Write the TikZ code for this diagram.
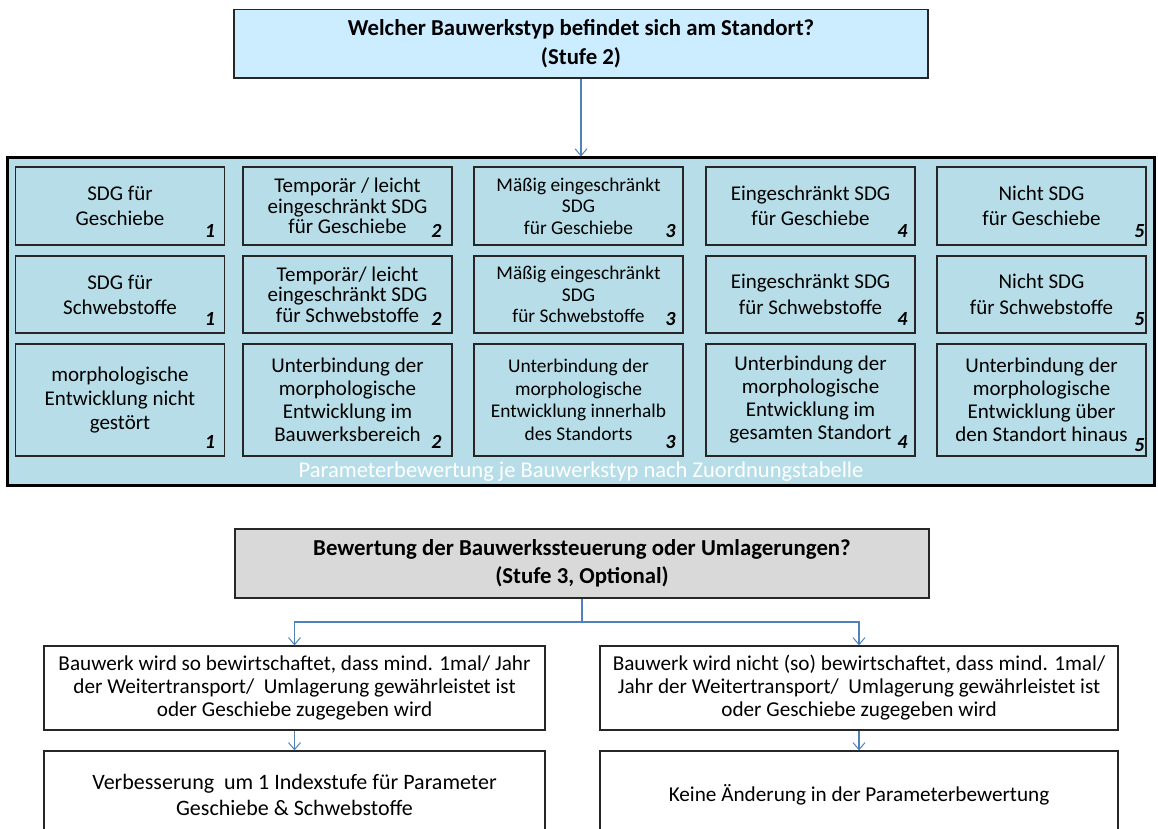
\documentclass[tikz,border=0pt]{standalone}
\usepackage{fontspec}
\setmainfont{Carlito}
\usetikzlibrary{arrows.meta,calc}
\definecolor{topfill}{RGB}{204,236,255}
\definecolor{cellfill}{RGB}{183,222,232}
\definecolor{grayfill}{RGB}{217,217,217}
\definecolor{linkblue}{RGB}{79,129,189}
\definecolor{edge}{RGB}{38,38,38}
\tikzset{
  cell/.style={draw=edge,line width=1.3pt,fill=cellfill,align=center,inner sep=0pt,
    minimum width=209pt,font=\fontsize{21}{20.5}\selectfont},
  headbox/.style={draw=edge,line width=1.3pt,align=center,inner sep=0pt,
    font=\bfseries\fontsize{22.8}{28.5}\selectfont},
  plainbox/.style={draw=edge,line width=1.3pt,fill=white,align=center,inner sep=0pt,
    font=\fontsize{21.2}{23}\selectfont},
  idx/.style={anchor=base east,inner sep=0pt,font=\bfseries\itshape\fontsize{20}{20}\selectfont},
  link/.style={draw=linkblue,line width=1.2pt,-{Straight Barb[length=7pt,width=12pt,line width=1pt]}},
  plainlink/.style={draw=linkblue,line width=1.2pt}
}
\begin{document}
\begin{tikzpicture}[x=1pt,y=-1pt]
\useasboundingbox (0,0) rectangle (1158,829);
\clip (0,0) rectangle (1158,829);

% top question
\node[headbox,fill=topfill,minimum width=694pt,minimum height=68.5pt] (q2) at (581,43.75)
  {Welcher Bauwerkstyp befindet sich am Standort?\\(Stufe 2)};

% container
\node[draw=black,line width=3pt,fill=cellfill,minimum width=1147pt,minimum height=327.5pt,inner sep=0pt] (cont) at (581,321.75) {};
\draw[link] (q2.south) -- (q2.south |- cont.north);

% row 1
\node[cell,minimum height=78pt,font=\fontsize{21}{25}\selectfont] (c11) at (120,206) {SDG für\\Geschiebe};
\node[cell,minimum height=78pt] (c12) at (347.5,206) {Temporär / leicht\\eingeschränkt SDG\\für Geschiebe};
\node[cell,minimum height=78pt,font=\fontsize{19.4}{21.5}\selectfont] (c13) at (578.5,206) {Mäßig eingeschränkt\\SDG\\für Geschiebe};
\node[cell,minimum height=78pt,font=\fontsize{21}{25.5}\selectfont] (c14) at (810.5,206) {Eingeschränkt SDG\\für Geschiebe};
\node[cell,minimum height=78pt,font=\fontsize{21}{25.5}\selectfont] (c15) at (1041.5,206) {Nicht SDG\\für Geschiebe};
% row 2
\node[cell,minimum height=77pt,font=\fontsize{21}{25}\selectfont] (c21) at (120,294.5) {SDG für\\Schwebstoffe};
\node[cell,minimum height=77pt] (c22) at (347.5,294.5) {Temporär/ leicht\\eingeschränkt SDG\\für Schwebstoffe};
\node[cell,minimum height=77pt,font=\fontsize{19.4}{21.5}\selectfont] (c23) at (578.5,294.5) {Mäßig eingeschränkt\\SDG\\für Schwebstoffe};
\node[cell,minimum height=77pt,font=\fontsize{21}{25.5}\selectfont] (c24) at (810.5,294.5) {Eingeschränkt SDG\\für Schwebstoffe};
\node[cell,minimum height=77pt,font=\fontsize{21}{25.5}\selectfont] (c25) at (1041.5,294.5) {Nicht SDG\\für Schwebstoffe};
% row 3
\node[cell,minimum height=112pt,font=\fontsize{21}{24}\selectfont] (c31) at (120,400) {morphologische\\Entwicklung nicht\\gestört};
\node[cell,minimum height=112pt,font=\fontsize{21}{23}\selectfont] (c32) at (347.5,400) {Unterbindung der\\morphologische\\Entwicklung im\\Bauwerksbereich};
\node[cell,minimum height=112pt,font=\fontsize{19.4}{22.5}\selectfont] (c33) at (578.5,400) {Unterbindung der\\morphologische\\Entwicklung innerhalb\\des Standorts};
\node[cell,minimum height=112pt,font=\fontsize{21}{23}\selectfont] (c34) at (810.5,400) {Unterbindung der\\morphologische\\Entwicklung im\\gesamten Standort};
\node[cell,minimum height=112pt,font=\fontsize{21}{23}\selectfont] (c35) at (1041.5,400) {Unterbindung der\\morphologische\\Entwicklung über\\den Standort hinaus};

% index numbers
\foreach \r in {1,2,3}{
  \node[idx] (n\r1) at ($(c\r1.south east)+(-10,-8)$) {1};
  \node[idx] (n\r2) at ($(c\r2.south east)+(-11,-8)$) {2};
  \node[idx] (n\r3) at ($(c\r3.south east)+(-8,-8)$) {3};
  \node[idx] (n\r4) at ($(c\r4.south east)+(-8,-8)$) {4};
}
\node[idx] (n15) at ($(c15.south east)+(-2,-8)$) {5};
\node[idx] (n25) at ($(c25.south east)+(-2,-8)$) {5};
\node[idx] (n35) at ($(c35.south east)+(-2,-5)$) {5};

\node[text=white,font=\fontsize{22.5}{22.5}\selectfont,inner sep=0pt] (ptext) at (581,472)
  {Parameterbewertung je Bauwerkstyp nach Zuordnungstabelle};

% stage 3
\node[headbox,fill=grayfill,minimum width=694pt,minimum height=69pt] (q3) at (582,563.5)
  {Bewertung der Bauwerkssteuerung oder Umlagerungen?\\(Stufe 3, Optional)};

\node[plainbox,minimum width=501pt,minimum height=84pt] (b1) at (294.5,688)
  {Bauwerk wird so bewirtschaftet, dass mind. 1mal/ Jahr\\der Weitertransport/ \ Umlagerung gewährleistet ist\\oder Geschiebe zugegeben wird};
\node[plainbox,minimum width=518pt,minimum height=84pt] (b2) at (859,688)
  {Bauwerk wird nicht (so) bewirtschaftet, dass mind. 1mal/\\Jahr der Weitertransport/ \ Umlagerung gewährleistet ist\\oder Geschiebe zugegeben wird};
\node[plainbox,minimum width=501pt,minimum height=88pt,font=\fontsize{22}{26}\selectfont] (b3) at (294.5,795)
  {Verbesserung \ um 1 Indexstufe für Parameter\\Geschiebe \& Schwebstoffe};
\node[plainbox,minimum width=518pt,minimum height=88pt] (b4) at (859,795)
  {Keine Änderung in der Parameterbewertung};

\coordinate (split) at (582,622);
\draw[plainlink] (q3.south) -- (split);
\draw[link] (split) -| (b1.north);
\draw[link] (split) -| (b2.north);
\draw[link] (b1.south) -- (b3.north);
\draw[link] (b2.south) -- (b4.north);
\end{tikzpicture}
\end{document}
